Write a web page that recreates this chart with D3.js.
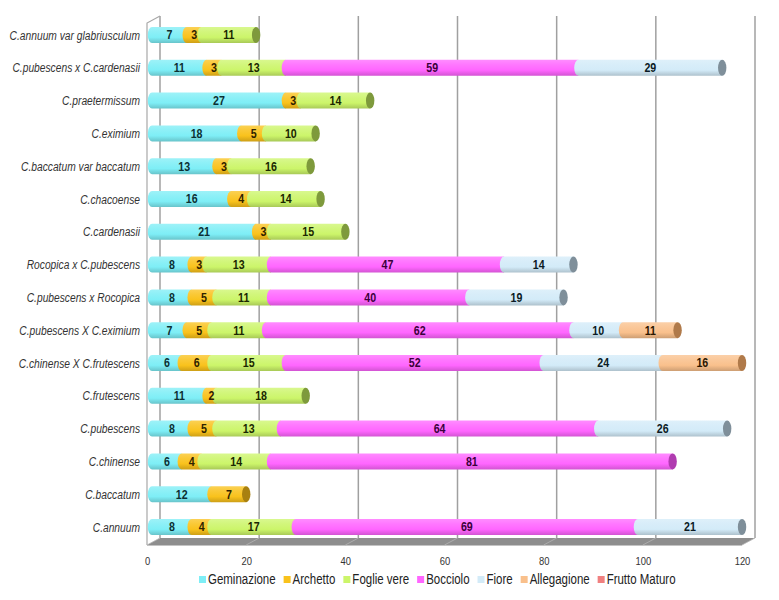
<!DOCTYPE html>
<html>
<head>
<meta charset="utf-8">
<script src="https://cdn.jsdelivr.net/npm/d3@7"></script>
<style>
  html, body { margin: 0; padding: 0; background: #ffffff; }
  svg { display: block; }
  text { font-family: "Liberation Sans", Arial, sans-serif; }
</style>
</head>
<body>
<svg id="chart" width="779" height="600"></svg>
<script>
// ---------- DATA ----------
const categories = [
  "C.annuum var glabriusculum",
  "C.pubescens x C.cardenasii",
  "C.praetermissum",
  "C.eximium",
  "C.baccatum var baccatum",
  "C.chacoense",
  "C.cardenasii",
  "Rocopica x C.pubescens",
  "C.pubescens x Rocopica",
  "C.pubescens X C.eximium",
  "C.chinense X C.frutescens",
  "C.frutescens",
  "C.pubescens",
  "C.chinense",
  "C.baccatum",
  "C.annuum"
];
const seriesNames = ["Geminazione", "Archetto", "Foglie vere", "Bocciolo", "Fiore", "Allegagione", "Frutto Maturo"];
const geminazione  = [7, 11, 27, 18, 13, 16, 21, 8, 8, 7, 6, 11, 8, 6, 12, 8];
const archetto     = [3, 3, 3, 5, 3, 4, 3, 3, 5, 5, 6, 2, 5, 4, 7, 4];
const foglieVere   = [11, 13, 14, 10, 16, 14, 15, 13, 11, 11, 15, 18, 13, 14, null, 17];
const bocciolo     = [null, 59, null, null, null, null, null, 47, 40, 62, 52, null, 64, 81, null, 69];
const fiore        = [null, 29, null, null, null, null, null, 14, 19, 10, 24, null, 26, null, null, 21];
const allegagione  = [null, null, null, null, null, null, null, null, null, 11, 16, null, null, null, null, null];
const fruttoMaturo = [null, null, null, null, null, null, null, null, null, null, null, null, null, null, null, null];
const tickValues = [0, 20, 40, 60, 80, 100, 120];

// ---------- STYLE ----------
const seriesColors = ["#7eeef6", "#f9c21c", "#ccf56a", "#ff66ff", "#d3ebf8", "#f9c08c", "#f08080"];
const capColors    = ["#4fa8b0", "#a88010", "#7e9a3c", "#b03cb0", "#7f8f9a", "#b07a4a", "#a04848"];
const labelColors  = ["#0c2f33", "#2e2200", "#1a2600", "#3a003a", "#0b1a24", "#2a1600", "#300000"];
const SX = 0.82; // horizontal condensing of text (narrow face)

const seriesData = [geminazione, archetto, foglieVere, bocciolo, fiore, allegagione, fruttoMaturo];
const table = categories.map((c, i) => {
  const row = { category: c };
  seriesNames.forEach((s, k) => { row[s] = seriesData[k][i] || 0; });
  return row;
});

const svg = d3.select("#chart");
const defs = svg.append("defs");

function ntext(parent, x, yy, str, anchor, opts) {
  const g = parent.append("g").attr("transform", `translate(${x},${yy}) scale(${SX},1)`);
  const t = g.append("text").attr("x", 0).attr("y", 0).attr("text-anchor", anchor)
    .attr("font-size", opts.size).attr("fill", opts.fill || "#333").text(str);
  if (opts.bold) t.attr("font-weight", "bold");
  if (opts.italic) t.attr("font-style", "italic");
  return t;
}

// 3D layout offsets
const depthX = 13, depthY = -7;
const frontX0 = 147, frontX1 = 742;
const barX0 = 152;
const unit = (frontX1 - frontX0) / 120;

const xFront = d3.scaleLinear().domain([0, 120]).range([frontX0, frontX1]);
const xBar   = d3.scaleLinear().domain([0, 120]).range([barX0, barX0 + 120 * unit]);
const xBack  = d3.scaleLinear().domain([0, 120]).range([frontX0 + depthX, frontX1 + depthX]);
const y = d3.scaleBand().domain(categories).range([18.6, 543.4]).padding(0);

const floorFront = 545, floorBack = floorFront + depthY, wallTop = 16;

seriesColors.forEach((col, k) => {
  const g = defs.append("linearGradient").attr("id", "grad" + k)
    .attr("x1", 0).attr("y1", 0).attr("x2", 0).attr("y2", 1);
  const c = d3.color(col);
  g.append("stop").attr("offset", "0%").attr("stop-color", d3.interpolateRgb(col, "#ffffff")(0.25));
  g.append("stop").attr("offset", "30%").attr("stop-color", d3.interpolateRgb(col, "#ffffff")(0.12));
  g.append("stop").attr("offset", "65%").attr("stop-color", col);
  g.append("stop").attr("offset", "100%").attr("stop-color", c.darker(0.55).formatHex());
});

// ---------- WALLS & GRID ----------
svg.append("g").selectAll("line").data(tickValues).join("line")
  .attr("x1", d => xBack(d)).attr("x2", d => xBack(d))
  .attr("y1", wallTop).attr("y2", floorBack)
  .attr("stroke", "#a0a0a0").attr("stroke-width", 1.5);

svg.append("path")
  .attr("d", `M${frontX0},${floorFront} L${frontX0},${wallTop - depthY} L${frontX0 + depthX},${wallTop}`)
  .attr("fill", "none").attr("stroke", "#a8a8a8").attr("stroke-width", 1.2);

svg.append("path")
  .attr("d", `M${frontX0},${floorFront} L${xBack(0)},${floorBack} L${xBack(120)},${floorBack} L${frontX1},${floorFront} Z`)
  .attr("fill", "#8e8e8e");
svg.append("line")
  .attr("x1", frontX0).attr("x2", frontX1).attr("y1", floorFront + 0.5).attr("y2", floorFront + 0.5)
  .attr("stroke", "#c4c4c4").attr("stroke-width", 1);
svg.append("g").selectAll("line").data(tickValues).join("line")
  .attr("x1", d => xFront(d)).attr("x2", d => xBack(d))
  .attr("y1", floorFront).attr("y2", floorBack)
  .attr("stroke", "#b4b4b4").attr("stroke-width", 0.8);

// ---------- BARS ----------
const stacked = d3.stack().keys(seriesNames)(table);
const barH = 16, rx = 4.2;

const rows = svg.append("g");
categories.forEach((cat, i) => {
  const cy = y(cat) + y.bandwidth() / 2;
  const top = cy - barH / 2, bot = cy + barH / 2;
  const segs = [];
  stacked.forEach((layer, k) => {
    const d = layer[i];
    if (d[1] - d[0] > 0) segs.push({ k, v0: d[0], v1: d[1], val: d[1] - d[0] });
  });
  const g = rows.append("g");
  segs.forEach(s => {
    const x0 = xBar(s.v0), x1 = xBar(s.v1);
    g.append("path")
      .attr("d", `M${x0},${top} L${x1},${top} L${x1},${bot} L${x0},${bot} A${rx},${barH / 2} 0 0 1 ${x0},${top} Z`)
      .attr("fill", `url(#grad${s.k})`);
  });
  const last = segs[segs.length - 1];
  if (last) {
    g.append("ellipse")
      .attr("cx", xBar(last.v1)).attr("cy", cy).attr("rx", rx).attr("ry", barH / 2)
      .attr("fill", capColors[last.k]);
  }
  segs.forEach(s => {
    ntext(g, (xBar(s.v0) + xBar(s.v1)) / 2, cy + 4.4, s.val, "middle",
      { size: 13, bold: true, fill: labelColors[s.k] });
  });
});

// ---------- CATEGORY LABELS ----------
const catG = svg.append("g");
categories.forEach(c => {
  ntext(catG, 140, y(c) + y.bandwidth() / 2 + 4.5, c, "end", { size: 12.5, italic: true, fill: "#333333" });
});

// ---------- X AXIS ----------
const xAxis = d3.axisBottom(xFront).tickValues(tickValues).tickSize(0).tickPadding(0);
const ax = svg.append("g").attr("transform", `translate(0,${floorFront + 20})`).call(xAxis);
ax.select(".domain").remove();
ax.selectAll("text")
  .attr("font-family", "Liberation Sans, Arial, sans-serif")
  .attr("font-size", 11.5).attr("fill", "#333333").attr("dy", 0)
  .attr("transform", `scale(${SX},1)`);

// ---------- LEGEND ----------
const legend = svg.append("g").attr("transform", "translate(0,584)");
let lx = 199;
seriesNames.forEach((s, k) => {
  const it = legend.append("g").attr("transform", `translate(${lx},0)`);
  it.append("rect").attr("x", 0).attr("y", -8).attr("width", 7).attr("height", 7).attr("fill", seriesColors[k]);
  const t = ntext(it, 9, 0, s, "start", { size: 14, fill: "#222222" });
  const w = t.node().getComputedTextLength() * SX;
  lx += 9 + w + 8;
});
</script>
</body>
</html>
